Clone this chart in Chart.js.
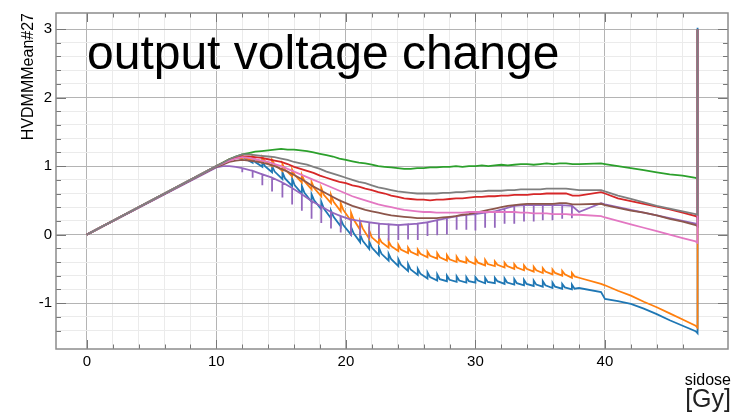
<!DOCTYPE html>
<html>
<head>
<meta charset="utf-8">
<script src="https://cdn.jsdelivr.net/npm/chart.js@4.4.1/dist/chart.umd.min.js"></script>
<style>
  html, body { margin: 0; padding: 0; background: #fff; }
</style>
</head>
<body>
<canvas id="hvdmm" width="732" height="412"></canvas>
<script>
// dose grid shared by the smooth curves
const doseRamp = [0, 10, 10.5, 11, 11.5];
const doseMid = [
  12, 12.5, 13, 13.5, 14, 14.5, 15, 15.5, 16, 16.5,
  17, 17.5, 18, 18.5, 19, 19.5, 20, 20.5, 21, 21.5,
  22, 22.5, 23, 23.5, 24, 24.5, 25, 25.5, 26, 26.5,
  27, 27.5, 28, 28.5, 29, 29.5, 30, 30.5, 31, 31.5,
  32, 32.5, 33, 33.5, 34, 34.5, 35, 35.5, 36, 36.5,
  37, 37.5
];
const doseTail = [38, 39.7, 40, 41, 42, 43, 44, 45, 46, 47, 47.15, 47.15];
const dose = [...doseRamp, ...doseMid, ...doseTail];

// annealing cycles (steps in blue/orange, dips in purple)
const cycleDose = [
  12.0, 12.8, 13.55, 14.3, 15.1, 15.85, 16.6, 17.35, 18.1, 18.85,
  19.6, 20.4, 21.1, 21.8, 22.55, 23.3, 24.05, 24.8, 25.55, 26.3,
  27.05, 27.8, 28.55, 29.3, 30.0, 30.75, 31.5, 32.25, 33.0, 33.75,
  34.5, 35.2, 35.95, 36.7, 37.45
];
// where the step has relaxed again
const settleDose = [
  12.2, 13.0, 13.75, 14.5, 15.3, 16.05, 16.8, 17.55, 18.3, 19.05,
  19.8, 20.6, 21.3, 22.0, 22.75, 23.5, 24.25, 25.0, 25.75, 26.5,
  27.25, 28.0, 28.75, 29.5, 30.2, 30.95, 31.7, 32.45, 33.2, 33.95,
  34.7, 35.4, 36.15, 36.9, 37.65
];

const greenVals = [
  0, 1.00, 1.05, 1.10, 1.14,
  1.17, 1.19, 1.21, 1.22, 1.23, 1.24, 1.25, 1.24, 1.24, 1.23,
  1.22, 1.20, 1.18, 1.16, 1.14, 1.11, 1.09, 1.07, 1.05, 1.04,
  1.02, 1.00, 0.99, 0.98, 0.97, 0.96, 0.96, 0.97, 0.97, 0.98,
  0.98, 0.99, 0.99, 1.00, 0.99, 1.00, 1.00, 1.01, 1.00, 1.01,
  1.02, 1.01, 1.02, 1.03, 1.03, 1.02, 1.03, 1.04, 1.03, 1.04,
  1.04, 1.03,
  1.03, 1.04, 1.03, 1.00, 0.97, 0.94, 0.91, 0.88, 0.86, 0.83, 0.81, 2.99
];
const grayVals = [
  0, 1.00, 1.05, 1.10, 1.14,
  1.17, 1.17, 1.16, 1.15, 1.14, 1.13, 1.11, 1.09, 1.06, 1.04,
  1.02, 0.99, 0.96, 0.92, 0.89, 0.86, 0.83, 0.80, 0.77, 0.75,
  0.72, 0.69, 0.67, 0.65, 0.63, 0.62, 0.61, 0.60, 0.60, 0.60,
  0.60, 0.61, 0.61, 0.62, 0.62, 0.63, 0.63, 0.63, 0.64, 0.64,
  0.64, 0.65, 0.65, 0.66, 0.66, 0.66, 0.66, 0.67, 0.67, 0.67,
  0.67, 0.66,
  0.65, 0.65, 0.63, 0.57, 0.52, 0.47, 0.42, 0.38, 0.34, 0.30, 0.29, 2.99
];
const redVals = [
  0, 0.99, 1.03, 1.08, 1.12,
  1.14, 1.14, 1.13, 1.12, 1.10, 1.08, 1.06, 1.03, 0.99, 0.96,
  0.93, 0.90, 0.86, 0.83, 0.80, 0.77, 0.75, 0.72, 0.70, 0.67,
  0.65, 0.62, 0.60, 0.57, 0.55, 0.53, 0.52, 0.51, 0.51, 0.50,
  0.51, 0.51, 0.52, 0.53, 0.53, 0.54, 0.55, 0.55, 0.56, 0.56,
  0.57, 0.57, 0.58, 0.58, 0.58, 0.59, 0.59, 0.60, 0.60, 0.60,
  0.60, 0.57,
  0.57, 0.62, 0.60, 0.53, 0.49, 0.45, 0.41, 0.37, 0.32, 0.27, 0.25, 2.99
];
const pinkVals = [
  0, 1.00, 1.04, 1.08, 1.11,
  1.13, 1.12, 1.10, 1.08, 1.06, 1.03, 1.00, 0.96, 0.92, 0.88,
  0.84, 0.80, 0.76, 0.72, 0.68, 0.64, 0.60, 0.56, 0.53, 0.50,
  0.47, 0.44, 0.42, 0.40, 0.38, 0.36, 0.35, 0.34, 0.33, 0.33,
  0.32, 0.32, 0.32, 0.32, 0.32, 0.33, 0.33, 0.33, 0.33, 0.33,
  0.33, 0.33, 0.33, 0.32, 0.32, 0.31, 0.31, 0.31, 0.30, 0.30,
  0.30, 0.29,
  0.29, 0.27, 0.25, 0.20, 0.15, 0.10, 0.05, 0.00, -0.05, -0.10, -0.12, 2.99
];
const brownVals = [
  0, 0.99, 1.02, 1.06, 1.08,
  1.09, 1.08, 1.07, 1.05, 1.03, 1.00, 0.96, 0.92, 0.87, 0.82,
  0.76, 0.70, 0.65, 0.60, 0.55, 0.50, 0.46, 0.42, 0.39, 0.36,
  0.34, 0.32, 0.30, 0.28, 0.27, 0.26, 0.25, 0.24, 0.24, 0.24,
  0.24, 0.25, 0.26, 0.27, 0.29, 0.30, 0.32, 0.34, 0.36, 0.38,
  0.40, 0.42, 0.43, 0.44, 0.45, 0.45, 0.45, 0.45, 0.45, 0.46,
  0.46, 0.44,
  0.44, 0.45, 0.43, 0.39, 0.35, 0.32, 0.28, 0.23, 0.19, 0.14, 0.12, 2.99
];

// purple: level before each cycle and the bottom of its dip
const purpleRamp = [0, 0.98, 1.00, 1.00, 0.99];
const purpleBase = [
  0.97, 0.93, 0.88, 0.83, 0.76, 0.68, 0.59, 0.49, 0.41, 0.33,
  0.27, 0.22, 0.20, 0.18, 0.16, 0.15, 0.14, 0.15, 0.16, 0.18,
  0.21, 0.24, 0.27, 0.29, 0.30, 0.32, 0.34, 0.38, 0.42, 0.43,
  0.43, 0.43, 0.43, 0.43, 0.42
];
const purpleDip = [
  0.91, 0.83, 0.72, 0.63, 0.54, 0.44, 0.35, 0.23, 0.17, 0.09,
  0.03, -0.02, -0.02, -0.06, -0.06, -0.09, -0.08, -0.07, -0.08, -0.02,
  -0.01, 0.00, 0.07, 0.07, 0.06, 0.10, 0.10, 0.16, 0.16, 0.19,
  0.19, 0.21, 0.21, 0.23, 0.24
];
const purpleTail = [0.33, 0.46, 0.44, 0.40, 0.36, 0.32, 0.28, 0.24, 0.20, 0.16, 0.15, 2.99];

// blue / orange: value just before a step, its peak, and the relaxed level
const blueRamp = [0, 1.00, 1.05, 1.10, 1.13];
const blueLow = [
  1.10, 1.05, 0.99, 0.91, 0.81, 0.71, 0.60, 0.48, 0.37, 0.24,
  0.12, 0.00, -0.11, -0.21, -0.30, -0.38, -0.46, -0.53, -0.59, -0.64,
  -0.67, -0.68, -0.69, -0.70, -0.70, -0.71, -0.71, -0.72, -0.73, -0.74,
  -0.75, -0.76, -0.78, -0.79, -0.80
];
const blueHigh = [
  1.15, 1.12, 1.07, 1.00, 0.91, 0.82, 0.71, 0.59, 0.48, 0.35,
  0.23, 0.11, 0.00, -0.10, -0.19, -0.28, -0.36, -0.43, -0.50, -0.55,
  -0.58, -0.60, -0.61, -0.62, -0.62, -0.63, -0.63, -0.64, -0.65, -0.66,
  -0.67, -0.68, -0.70, -0.72, -0.73
];
const blueSettle = [
  1.11, 1.06, 1.00, 0.92, 0.82, 0.72, 0.61, 0.50, 0.38, 0.26,
  0.14, 0.02, -0.09, -0.19, -0.28, -0.36, -0.44, -0.51, -0.57, -0.62,
  -0.65, -0.66, -0.67, -0.68, -0.67, -0.69, -0.68, -0.70, -0.71, -0.72,
  -0.73, -0.74, -0.76, -0.77, -0.79
];
const blueTail = [-0.78, -0.84, -0.94, -0.97, -1.01, -1.08, -1.16, -1.25, -1.33, -1.41, -1.44, 3.02];

const orangeRamp = [0, 1.00, 1.05, 1.10, 1.13];
const orangeLow = [
  1.11, 1.08, 1.05, 1.00, 0.93, 0.85, 0.76, 0.66, 0.56, 0.46,
  0.34, 0.20, 0.07, -0.06, -0.13, -0.19, -0.24, -0.27, -0.30, -0.33,
  -0.35, -0.38, -0.40, -0.41, -0.43, -0.45, -0.46, -0.48, -0.50, -0.52,
  -0.54, -0.56, -0.58, -0.60, -0.63
];
const orangeHigh = [
  1.15, 1.15, 1.13, 1.09, 1.03, 0.95, 0.87, 0.77, 0.68, 0.58,
  0.46, 0.32, 0.19, 0.06, -0.04, -0.10, -0.15, -0.19, -0.22, -0.25,
  -0.27, -0.30, -0.32, -0.34, -0.35, -0.37, -0.39, -0.41, -0.43, -0.45,
  -0.47, -0.49, -0.51, -0.53, -0.56
];
const orangeSettle = [
  1.12, 1.10, 1.07, 1.02, 0.95, 0.87, 0.78, 0.68, 0.58, 0.48,
  0.36, 0.22, 0.09, -0.04, -0.11, -0.17, -0.22, -0.25, -0.28, -0.31,
  -0.33, -0.36, -0.38, -0.39, -0.41, -0.43, -0.44, -0.46, -0.48, -0.50,
  -0.52, -0.54, -0.56, -0.58, -0.61
];
const orangeTail = [-0.63, -0.72, -0.74, -0.82, -0.89, -0.98, -1.06, -1.15, -1.24, -1.33, -1.36, 2.99];

const pts = (xs, ys) => xs.map((x, i) => ({ x: x, y: ys[i] }));

// a step: the curve jumps from low to high at the same dose, then relaxes
function stepped(ramp, low, high, settle, tail) {
  const p = pts(doseRamp, ramp);
  cycleDose.forEach((d, i) => {
    p.push({ x: d, y: low[i] }, { x: d, y: high[i] }, { x: settleDose[i], y: settle[i] });
  });
  return p.concat(pts(doseTail, tail));
}

// a dip: the curve drops to the dip value and comes straight back
function dipped(ramp, base, dip, tail) {
  const p = pts(doseRamp, ramp);
  cycleDose.forEach((d, i) => {
    p.push({ x: d, y: base[i] }, { x: d, y: dip[i] }, { x: d, y: base[i] });
  });
  return p.concat(pts(doseTail, tail));
}

const isMult = (v, m) => Math.abs(v / m - Math.round(v / m)) < 1e-6;
const FONT = '"Liberation Sans", Arial, sans-serif';

function line(color, data) {
  return {
    data: data,
    borderColor: color,
    backgroundColor: color,
    borderWidth: 1.8,
    pointRadius: 0,
    tension: 0,
    fill: false
  };
}

// tick marks point into the frame on all four sides
const innerTicks = {
  id: 'innerTicks',
  afterDatasetsDraw(chart) {
    const { ctx, chartArea: a, scales: { x, y } } = chart;
    ctx.save();
    ctx.strokeStyle = '#777';
    ctx.lineWidth = 1;
    ctx.beginPath();
    x.ticks.forEach(t => {
      if (!isMult(t.value, 2)) return;
      const px = Math.round(x.getPixelForValue(t.value)) + 0.5;
      const len = isMult(t.value, 10) ? 9 : 4.5;
      ctx.moveTo(px, a.bottom); ctx.lineTo(px, a.bottom - len);
      ctx.moveTo(px, a.top); ctx.lineTo(px, a.top + len);
    });
    y.ticks.forEach(t => {
      if (!isMult(t.value, 0.2)) return;
      const py = Math.round(y.getPixelForValue(t.value)) + 0.5;
      const len = isMult(t.value, 1) ? 10 : 5;
      ctx.moveTo(a.left, py); ctx.lineTo(a.left + len, py);
      ctx.moveTo(a.right, py); ctx.lineTo(a.right - len, py);
    });
    ctx.stroke();
    ctx.strokeStyle = '#8c8c8c';
    ctx.lineWidth = 1.5;
    ctx.strokeRect(a.left, a.top, a.right - a.left, a.bottom - a.top);
    ctx.restore();
  }
};

const labels = {
  id: 'labels',
  afterDraw(chart) {
    const c = chart.ctx;
    c.save();
    c.fillStyle = '#000';
    c.textBaseline = 'alphabetic';
    c.font = '48px ' + FONT;
    c.textAlign = 'left';
    c.fillText('output voltage change', 87, 69);
    c.textAlign = 'right';
    c.font = '16px ' + FONT;
    c.fillText('sidose', 731, 385);
    c.fillStyle = '#222';
    c.font = '25px ' + FONT;
    c.fillText('[Gy]', 731, 407);
    c.fillStyle = '#000';
    c.translate(33, 13);
    c.rotate(-Math.PI / 2);
    c.font = '16px ' + FONT;
    c.fillText('HVDMMMean#27', 0, 0);
    c.restore();
  }
};

new Chart(document.getElementById('hvdmm'), {
  type: 'line',
  data: {
    datasets: [
      line('#7f7f7f', pts(dose, grayVals)),
      line('#e377c2', pts(dose, pinkVals)),
      line('#8c564b', pts(dose, brownVals)),
      line('#9467bd', dipped(purpleRamp, purpleBase, purpleDip, purpleTail)),
      line('#d62728', pts(dose, redVals)),
      line('#2ca02c', pts(dose, greenVals)),
      line('#ff7f0e', stepped(orangeRamp, orangeLow, orangeHigh, orangeSettle, orangeTail)),
      line('#1f77b4', stepped(blueRamp, blueLow, blueHigh, blueSettle, blueTail))
    ]
  },
  options: {
    responsive: false,
    animation: false,
    layout: { padding: { top: 8, right: 1, left: 0, bottom: 0 } },
    plugins: { legend: { display: false }, tooltip: { enabled: false } },
    scales: {
      x: {
        type: 'linear',
        min: -2.38,
        max: 49.5,
        afterFit(s) { s.height = 63; },
        border: { display: false },
        grid: {
          drawTicks: false,
          lineWidth: 1,
          color: c => !isMult(c.tick.value, 2) ? 'rgba(0,0,0,0)' :
            isMult(c.tick.value, 10) ? '#b4b4b4' : '#ebebeb'
        },
        ticks: {
          stepSize: 2,
          autoSkip: false,
          maxRotation: 0,
          padding: 4,
          color: '#000',
          font: { family: FONT, size: 15 },
          callback: v => isMult(v, 10) ? String(Math.round(v)) : ''
        }
      },
      y: {
        min: -1.67,
        max: 3.235,
        afterFit(s) { s.width = 56; },
        border: { display: false },
        grid: {
          drawTicks: false,
          lineWidth: 1,
          color: c => !isMult(c.tick.value, 0.2) ? 'rgba(0,0,0,0)' :
            isMult(c.tick.value, 1) ? '#b4b4b4' : '#ebebeb'
        },
        ticks: {
          stepSize: 0.2,
          autoSkip: false,
          padding: 4,
          color: '#000',
          font: { family: FONT, size: 15 },
          callback: v => isMult(v, 1) ? String(Math.round(v)) : ''
        }
      }
    }
  },
  plugins: [innerTicks, labels]
});
</script>
</body>
</html>
